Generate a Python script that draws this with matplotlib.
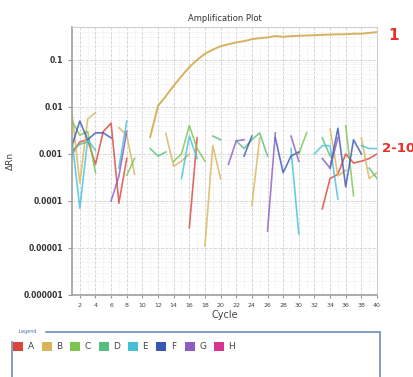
import numpy as np
import matplotlib
matplotlib.use("Agg")
import matplotlib.pyplot as plt
from matplotlib.patches import Rectangle
from matplotlib.ticker import LogLocator, MultipleLocator, FixedLocator

# cycles on the x axis
cycles = np.arange(1, 41)

# amplified sample (well 1), cycles 11..40
amp_start = 11
amp_vals = [0.0023, 0.0105, 0.017, 0.028, 0.045, 0.07, 0.1, 0.135, 0.165, 0.195,
            0.215, 0.235, 0.25, 0.275, 0.29, 0.3, 0.32, 0.31, 0.32, 0.325,
            0.33, 0.335, 0.34, 0.345, 0.35, 0.35, 0.36, 0.36, 0.375, 0.39]

# noise traces for wells 2-10: {start cycle: values}, gaps where dRn <= 0
red_a = {1: [0.001, 0.0018, 0.002, 0.0006, 0.003, 0.0045, 0.00009, 0.0008],
         16: [0.000027, 0.0022],
         33: [0.000068, 0.0003, 0.00037, 0.001, 0.00064, 0.0007, 0.0008, 0.001]}
blue_f = {1: [0.0015, 0.005, 0.002, 0.0028, 0.0028, 0.0022],
          23: [0.0009, 0.0024],
          27: [0.0022, 0.0004, 0.0009, 0.0011],
          34: [0.0005, 0.0035, 0.0002, 0.002, 0.001]}
cyan_e = {1: [0.002, 0.00007, 0.002, 0.0012],
          7: [0.0005, 0.005],
          15: [0.0003, 0.0024, 0.0008],
          29: [0.0013, 0.00002],
          32: [0.001, 0.0015, 0.0015, 0.00011],
          38: [0.0015, 0.0013, 0.0013]}
gold_b = {1: [0.0075, 0.00024, 0.0055, 0.0075],
          7: [0.0036, 0.0025, 0.00037],
          13: [0.0027, 0.00055, 0.0007, 0.001],
          18: [0.000011, 0.0015, 0.0003],
          24: [0.00008, 0.0022],
          34: [0.0034, 0.00034, 0.00045],
          38: [0.0022, 0.0003, 0.0004]}
green_c = {1: [0.005, 0.0025, 0.003, 0.0004],
           8: [0.00035, 0.0008],
           14: [0.0007, 0.001, 0.004, 0.0013, 0.0007],
           30: [0.001, 0.0028],
           36: [0.004, 0.00013]}
green_d = {1: [0.0012, 0.0016, 0.0018],
           11: [0.0013, 0.0009, 0.0011],
           19: [0.0024, 0.002],
           22: [0.0019, 0.0013, 0.002, 0.0028, 0.0009],
           33: [0.0022, 0.0009],
           39: [0.0005, 0.0003]}
purple_g = {6: [0.0001, 0.00034, 0.003],
            21: [0.0006, 0.0019, 0.002],
            26: [0.000023, 0.0028],
            29: [0.0024, 0.0007],
            33: [0.0008, 0.0005, 0.0022]}

well_colors = {"A": "#d9453a", "B": "#d8b55a", "C": "#7cc44e", "D": "#56be7c",
               "E": "#45c0d8", "F": "#3b55b3", "G": "#8a5cc4", "H": "#d8338e"}

noise = [(red_a, "A"), (gold_b, "B"), (green_c, "C"), (green_d, "D"),
         (cyan_e, "E"), (blue_f, "F"), (purple_g, "G")]


def to_series(segments):
    y = np.full(len(cycles), np.nan)
    for start, vals in segments.items():
        y[start - 1:start - 1 + len(vals)] = vals
    return y


W, H = 414, 377
fig = plt.figure(figsize=(W / 100, H / 100), dpi=100)
ax = fig.add_axes([72 / W, 1 - 295 / H, (377 - 72) / W, (295 - 27) / H])

# grid
ax.set_yscale("log")
ax.set_xlim(1, 40)
ax.set_ylim(1e-6, 0.5)
ax.xaxis.set_major_locator(MultipleLocator(2))
ax.xaxis.set_minor_locator(MultipleLocator(1))
ax.yaxis.set_major_locator(FixedLocator([1e-6, 1e-5, 1e-4, 1e-3, 1e-2, 1e-1]))
ax.yaxis.set_minor_locator(LogLocator(base=10, subs=np.arange(2, 10), numticks=20))
ax.grid(which="major", color="#d0d0d0", linestyle="--", linewidth=0.6)
ax.grid(which="minor", color="#e0e0e0", linestyle=":", linewidth=0.5)
ax.set_axisbelow(True)

for segs, well in noise:
    ax.plot(cycles, to_series(segs), color=well_colors[well], lw=1.2, alpha=0.8)

amp = np.full(len(cycles), np.nan)
amp[amp_start - 1:] = amp_vals
ax.plot(cycles, amp, color="#d6b25c", lw=1.4)

ax.set_yticklabels(["0.000001", "0.00001", "0.0001", "0.001", "0.01", "0.1"])
ax.tick_params(axis="y", which="major", labelsize=5.5, length=3, color="#999999",
               labelcolor="#333333")
ax.tick_params(axis="x", which="major", labelsize=4.5, length=2, color="#999999",
               labelcolor="#444444")
ax.tick_params(which="minor", length=0)
for t in ax.get_yticklabels():
    t.set_fontweight("bold")
for side in ["left", "bottom"]:
    ax.spines[side].set_color("#a0a0a0")
    ax.spines[side].set_linewidth(1.2)
for side in ["top", "right"]:
    ax.spines[side].set_color("#cfcfcf")
    ax.spines[side].set_linewidth(0.8)

ax.set_title("Amplification Plot", fontsize=6, color="#333333", pad=4)
ax.set_xlabel("Cycle", fontsize=7, color="#444444", labelpad=2)
ax.set_ylabel("\u0394Rn", fontsize=6.5, color="#444444", labelpad=6)

# red annotations
fig.text(388 / W, 1 - 35 / H, "1", color="#e8302a", fontsize=11, fontweight="bold",
         va="center", ha="left")
fig.text(382 / W, 1 - 148 / H, "2-10", color="#e8302a", fontsize=9.5, fontweight="bold",
         va="center", ha="left")

# legend panel drawn in pixel coordinates
lg = fig.add_axes([0, 0, 1, 1], zorder=-1)
lg.set_xlim(0, W)
lg.set_ylim(H, 0)
lg.axis("off")
lg.add_patch(Rectangle((12, 332), 368, 60, fill=False, edgecolor="#6b8db5", lw=1.2))
lg.text(17, 332, " Legend ", fontsize=3.5, color="#4a74b0", va="center", ha="left",
        backgroundcolor="white")
for i, (well, col) in enumerate(well_colors.items()):
    x0 = 13 + i * 28.7
    lg.add_patch(Rectangle((x0, 341.5), 10, 9, facecolor=col, edgecolor="none"))
    lg.text(x0 + 14.5, 346.5, well, fontsize=6.5, color="#444444", va="center", ha="left")

fig.savefig("out.png", dpi=100)
